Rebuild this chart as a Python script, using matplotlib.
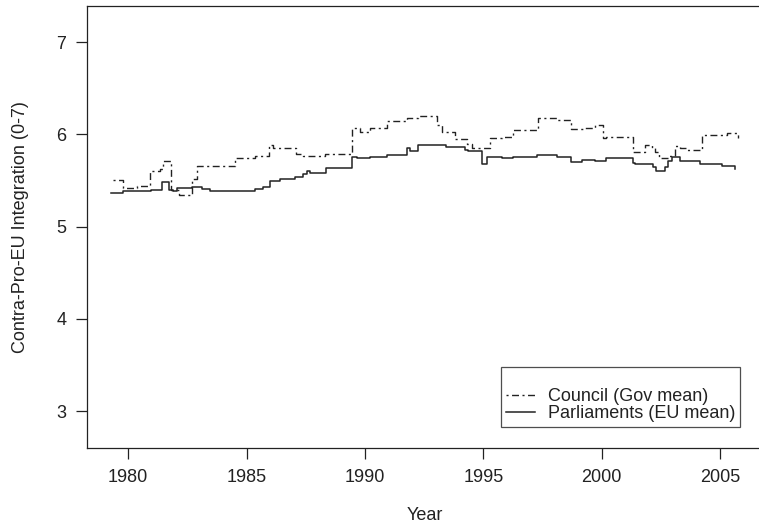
import matplotlib.pyplot as plt
import numpy as np

plt.rcParams['font.family'] = ['Liberation Sans', 'DejaVu Sans']

# Council (government mean), step changes (year, value)
council_years = [1979.34, 1979.76, 1980.35, 1980.92, 1981.34, 1981.45, 1981.79, 1982.15,
                 1982.68, 1982.89, 1984.51, 1985.35, 1985.96, 1986.13, 1987.10, 1987.40,
                 1988.31, 1989.44, 1989.79, 1990.21, 1990.94, 1991.76, 1992.25, 1993.03,
                 1993.24, 1993.80, 1994.29, 1994.51, 1995.28, 1995.77, 1996.27, 1997.32,
                 1998.10, 1998.69, 1999.20, 1999.72, 2000.07, 2000.18, 2001.33, 2001.83,
                 2002.11, 2002.25, 2002.43, 2002.85, 2003.10, 2003.30, 2003.59, 2004.22,
                 2005.28, 2005.77]
council_vals = [5.50, 5.42, 5.44, 5.60, 5.62, 5.71, 5.40, 5.34,
                5.52, 5.66, 5.74, 5.765, 5.88, 5.85, 5.79, 5.77,
                5.79, 6.07, 6.02, 6.07, 6.14, 6.18, 6.20, 6.10,
                6.02, 5.95, 5.89, 5.85, 5.96, 5.975, 6.05, 6.175,
                6.155, 6.055, 6.07, 6.10, 5.955, 5.97, 5.81, 5.885,
                5.85, 5.81, 5.74, 5.76, 5.87, 5.85, 5.83, 5.99,
                6.01, 5.955]

# Parliaments (EU mean)
parl_years = [1979.27, 1979.79, 1980.95, 1981.44, 1981.73, 1981.90, 1982.05, 1982.68,
              1983.10, 1983.45, 1985.35, 1985.70, 1985.99, 1986.40, 1987.04, 1987.40,
              1987.54, 1987.68, 1988.34, 1989.44, 1989.65, 1990.21, 1990.94, 1991.76,
              1991.90, 1992.25, 1993.42, 1994.22, 1994.35, 1994.93, 1995.14, 1995.77,
              1996.27, 1997.25, 1998.10, 1998.69, 1999.15, 1999.70, 2000.18, 2001.31,
              2001.40, 2002.18, 2002.29, 2002.67, 2002.81, 2002.96, 2003.31, 2004.15,
              2005.07, 2005.63]
parl_vals = [5.36, 5.38, 5.395, 5.48, 5.40, 5.38, 5.42, 5.43,
             5.41, 5.38, 5.405, 5.43, 5.49, 5.52, 5.54, 5.57,
             5.60, 5.58, 5.64, 5.757, 5.74, 5.754, 5.78, 5.85,
             5.82, 5.885, 5.866, 5.83, 5.82, 5.675, 5.757, 5.74,
             5.757, 5.776, 5.757, 5.703, 5.72, 5.71, 5.74, 5.686,
             5.675, 5.65, 5.605, 5.65, 5.71, 5.75, 5.71, 5.678,
             5.66, 5.62]

xticks = [1980, 1985, 1990, 1995, 2000, 2005]
yticks = [3, 4, 5, 6, 7]

fig = plt.figure(figsize=(7.59, 5.29), dpi=100)
# right edge of the box falls just outside the canvas, as in the original crop
ax = fig.add_axes([0.115, 0.1531, 0.8901, 0.8355])

col = '#222222'
ax.step(council_years, council_vals, where='post', color=col, lw=1.0,
        dashes=(1.5, 2.5, 5, 2.5), label='Council (Gov mean)')
ax.step(parl_years, parl_vals, where='post', color=col, lw=1.1,
        label='Parliaments (EU mean)')

ax.set_xlim(1978.27, 2006.81)
ax.set_ylim(2.6, 7.39)
ax.set_xticks(xticks)
ax.set_yticks(yticks)
ax.tick_params(direction='out', length=8, width=0.9, color=col,
               labelsize=13, pad=7, labelcolor=col)
for s in ax.spines.values():
    s.set_linewidth(0.9)
    s.set_color(col)

ax.set_xlabel('Year', fontsize=13, color=col, labelpad=15)
ax.set_ylabel('Contra-Pro-EU Integration (0-7)', fontsize=13, color=col, labelpad=20)

leg = ax.legend(loc='lower right', bbox_to_anchor=(0.9661, 0.0482), fontsize=13,
                title=' ', title_fontsize=13, frameon=True, fancybox=False,
                edgecolor=col, labelcolor=col, handlelength=1.6, handletextpad=0.75,
                labelspacing=0.0, borderpad=0.25, borderaxespad=0)
leg.get_frame().set_linewidth(0.9)

fig.savefig('out.png', dpi=100)
